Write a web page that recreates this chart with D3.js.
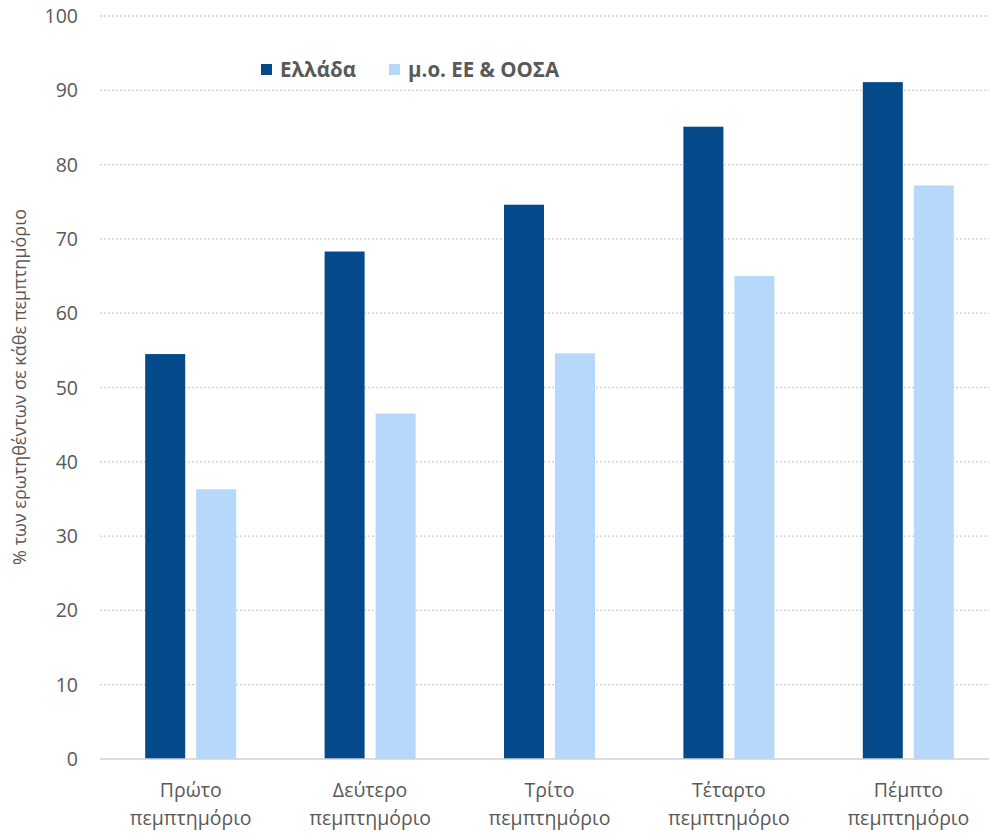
<!DOCTYPE html>
<html><head><meta charset="utf-8">
<script src="https://cdn.jsdelivr.net/npm/d3@7"></script>
<style>body{margin:0;background:#fff}svg{display:block}text{font-family:"Open Sans","Noto Sans",sans-serif}</style>
</head><body><svg id="c" width="989" height="833"></svg>
<script>
const categories = ["Πρώτο|πεμπτημόριο","Δεύτερο|πεμπτημόριο","Τρίτο|πεμπτημόριο","Τέταρτο|πεμπτημόριο","Πέμπτο|πεμπτημόριο"];
const seriesNames = ["Ελλάδα","μ.ο. ΕΕ & ΟΟΣΑ"];
const greece = [54.5, 68.3, 74.6, 85.1, 91.1];
const euOecd = [36.3, 46.5, 54.6, 65.0, 77.2];
const yTicks = [0,10,20,30,40,50,60,70,80,90,100];
const colors = ["#044a8a","#b6d8fb"];
const yTitle = "% των ερωτηθέντων σε κάθε πεμπτημόριο";

const svg = d3.select("#c");
const x = d3.scaleBand().domain(categories).range([101, 998]).paddingInner(0).paddingOuter(0);
const y = d3.scaleLinear().domain([0,100]).range([759, 16]);
const barW = 40, gap = 11;

// gridlines
svg.append("g").selectAll("line").data(yTicks.filter(d=>d>0)).join("line")
  .attr("x1",100).attr("x2",989).attr("y1",d=>y(d)).attr("y2",d=>y(d))
  .attr("stroke","#d0d0d0").attr("stroke-width",1.3).attr("stroke-dasharray","2,2");

// y tick labels
svg.append("g").selectAll("text").data(yTicks).join("text")
  .attr("x",78).attr("y",d=>y(d)).attr("dy","0.36em").attr("text-anchor","end")
  .attr("font-size",19.5).attr("fill","#595959").text(d=>d);

// bars
const series = [greece, euOecd];
series.forEach((vals,si)=>{
  svg.append("g").selectAll("rect").data(vals).join("rect")
    .attr("x",(d,i)=>x(categories[i]) + x.bandwidth()/2 - (barW*2+gap)/2 + si*(barW+gap))
    .attr("width",barW)
    .attr("y",d=>y(d)).attr("height",d=>y(0)-y(d))
    .attr("fill",colors[si]);
});

// axis line
svg.append("line").attr("x1",100).attr("x2",989).attr("y1",y(0)).attr("y2",y(0))
  .attr("stroke","#d0d0d0").attr("stroke-width",1.5);

// category labels
const cl = svg.append("g").selectAll("text").data(categories).join("text")
  .attr("text-anchor","middle").attr("font-size",19.5).attr("fill","#595959")
  .attr("transform",d=>`translate(${x(d)+x.bandwidth()/2},0)`);
cl.each(function(d){
  const parts = d.split("|");
  d3.select(this).selectAll("tspan").data(parts).join("tspan")
    .attr("x",0).attr("y",(p,i)=>797+i*28).text(p=>p);
});

// y title
svg.append("text").attr("transform","translate(26,387) rotate(-90)")
  .attr("text-anchor","middle").attr("font-size",18).attr("fill","#595959").text(yTitle);

// legend
const legX = [261, 389];
seriesNames.forEach((n,i)=>{
  svg.append("rect").attr("x",legX[i]).attr("y",64).attr("width",11).attr("height",11).attr("fill",colors[i]);
  svg.append("text").attr("x",legX[i]+19).attr("y",70).attr("dy","0.36em")
    .attr("font-size",20.5).attr("font-weight","bold").attr("fill","#595959").text(n);
});
</script></body></html>
